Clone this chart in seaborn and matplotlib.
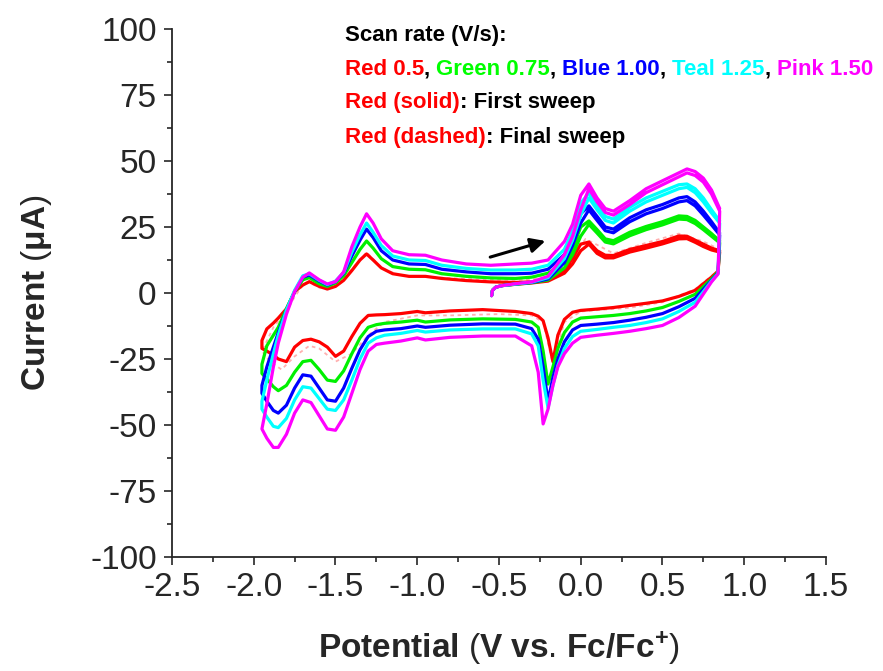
import numpy as np
import pandas as pd
import matplotlib
matplotlib.use("Agg")
import matplotlib.pyplot as plt
import seaborn as sns
from matplotlib.ticker import AutoMinorLocator, FormatStrFormatter

# Potential grids (V vs Fc/Fc+)
first_v = [-0.545, -0.54, -0.52, -0.48, -0.40, -0.30, -0.20, -0.10, -0.05, 0.00, 0.05,
           0.10, 0.15, 0.20, 0.30, 0.40, 0.50, 0.60, 0.65, 0.70, 0.75, 0.80, 0.85]
lower_v = [0.84, 0.80, 0.70, 0.60, 0.50, 0.40, 0.30, 0.20, 0.10, 0.00,
           -0.05, -0.10, -0.14, -0.17, -0.20, -0.23, -0.26, -0.30,
           -0.40, -0.60, -0.80, -0.95, -1.00, -1.10,
           -1.20, -1.25, -1.30, -1.35, -1.40, -1.45, -1.50,
           -1.55, -1.60, -1.65, -1.70, -1.75, -1.80, -1.85, -1.88, -1.92, -1.95]
upper_v = [-1.95, -1.92, -1.88, -1.85, -1.80, -1.75, -1.70, -1.66, -1.60, -1.55,
           -1.50, -1.45, -1.40, -1.35, -1.31, -1.27, -1.22, -1.15, -1.05, -0.95,
           -0.85, -0.70, -0.55, -0.40, -0.30, -0.20, -0.10, -0.05, 0.00, 0.05,
           0.10, 0.15, 0.20, 0.30, 0.40, 0.50, 0.60, 0.65, 0.70, 0.75, 0.80, 0.85]

# Current (uA), first anodic sweep from the start potential
red_first = [-1, 1, 2.2, 2.8, 3.3, 3.8, 4.5, 7.5, 11, 16, 18.5, 15, 13.3, 13.3, 15.5, 17, 18.6, 20.5, 20.6, 19.2, 17.6, 16.3, 15.5]
green_first = [-1, 1, 2.2, 2.8, 3.3, 3.9, 4.9, 9.5, 14.5, 21.5, 26, 22.7, 19.3, 18.6, 21.7, 24, 25.8, 28, 27.8, 26.3, 24, 21.5, 19]
blue_first = [-1, 1, 2.2, 2.8, 3.4, 4, 5.3, 11.5, 18, 26.5, 31.5, 27.5, 23.6, 22.8, 27, 30, 32, 34.5, 35, 33, 29.5, 25.8, 22]
teal_first = [-1, 1, 2.2, 2.8, 3.4, 4.1, 5.8, 13, 20, 29.5, 36, 31.5, 27.5, 26.5, 31, 34.5, 37, 39.5, 40, 38, 34.5, 30.3, 26.5]
pink_first = [-1, 1, 2.2, 2.8, 3.5, 4.2, 6.3, 14.5, 21.5, 31.5, 39.5, 34.5, 30.5, 29.5, 33.5, 38, 41, 44, 45.5, 44.5, 42, 37.5, 31]

# cathodic sweep 0.85 -> -1.95 V
red_lower = [8.3, 6, 1, -1.3, -3, -3.9, -4.7, -5.5, -6.1, -6.6, -7.3, -10, -16, -26, -17, -10.5, -8.8, -7.8,
             -7, -6.3, -6.8, -7.5, -7, -7.8, -8.2, -8.3, -8.5, -11.5, -16.5, -22, -24,
             -20.5, -18.5, -17.5, -18, -20.5, -26, -25, -23.5, -22, -21]
green_lower = [8, 5.3, -0.5, -3.2, -5.5, -6.8, -7.8, -8.5, -9, -9.5, -11, -15, -21, -28, -34.5, -22, -13, -11,
               -10, -9.8, -10.2, -11, -10.3, -11, -11.5, -12, -13, -17, -23, -29.5, -33.5,
               -33, -29, -25.5, -26, -30, -35, -37, -35.5, -32.5, -30.5]
blue_lower = [7.6, 4.8, -2, -5.2, -7.8, -9.2, -10.3, -11.2, -11.8, -12.3, -14, -18.5, -25, -32, -41, -28, -17.5, -13.5,
              -11.8, -11.7, -12.2, -13, -12.5, -13.5, -14, -14.5, -16.5, -21.5, -28.5, -36, -41,
              -40.5, -36, -31.5, -31, -36, -42.5, -45.5, -44.5, -41, -38]
teal_lower = [7.3, 4.5, -3.5, -7, -9.8, -11.2, -12.3, -13, -13.8, -14.5, -16.5, -21, -27.5, -35, -43.5, -33, -20, -15.5,
              -13.6, -13.6, -14, -14.8, -14.2, -15.3, -16, -17, -19, -25, -33, -40.5, -44.5,
              -44, -40, -36, -35.5, -40.5, -47.5, -51, -50.5, -47, -44]
pink_lower = [7.2, 4.2, -5, -9.3, -12.3, -13.5, -14.5, -15.3, -16, -16.8, -19, -23, -28, -35, -44, -49.6, -30, -20,
              -16.3, -16.3, -16.8, -17.8, -17, -18.2, -19, -19.5, -22, -29, -38, -47, -52,
              -51.5, -46.5, -41.5, -40.5, -45.5, -53.5, -58.5, -58.5, -55, -51.5]

# anodic sweep -1.95 -> 0.85 V
red_upper = [-18, -13.6, -11.4, -9.5, -6, 0.5, 3, 4.3, 2.5, 1.5, 2.5, 4.8, 8.5, 12.5, 14.8, 12.5, 9.5, 7.3, 6.3, 6.3,
             5.5, 4.7, 4.2, 4, 4.2, 5.5, 8.5, 13.3, 18.5, 19.3, 16, 14.3, 14.2, 16.5, 18, 19.5, 21.6, 21.5, 20, 18.5, 17, 16]
green_upper = [-27, -20, -16, -13, -6, 0.5, 5, 5.8, 3.5, 2.5, 3.8, 6.5, 11.5, 16.5, 19.7, 17, 13, 10, 9, 8.8,
               7.3, 6.3, 5.7, 5.5, 6, 7.5, 11.5, 17, 25, 27.3, 24, 20.5, 19.8, 23, 25.2, 27, 29.2, 29, 27.5, 25, 22.5, 19.7]
blue_upper = [-35, -28, -20.5, -15, -6.5, 0.5, 6, 6.8, 4.5, 3, 4.3, 7.5, 14, 20, 24.2, 21, 16, 12.5, 11, 10.8,
              9, 8, 7.3, 7.3, 7.5, 9, 14.5, 20.5, 30, 33, 29, 25, 24.2, 28.5, 31.5, 33.5, 36, 36.5, 34.5, 31, 27, 22.7]
teal_upper = [-41, -33, -23, -16, -6.5, 1, 6.5, 7.3, 4.8, 3.2, 4.5, 7.8, 15.5, 22, 26.5, 23, 18, 14, 12.5, 12.3,
              10.5, 9.3, 8.7, 8.7, 9, 10.5, 16.5, 23.5, 34, 37.9, 33, 29, 28, 32.5, 36, 38.5, 41, 41.3, 39.5, 36, 31.5, 27.3]
pink_upper = [-51.5, -42, -28, -19, -8, 0.5, 6, 7.6, 5, 3.4, 4.3, 8, 17.5, 25, 30, 26.5, 20.5, 16, 14.5, 14.3,
              12.5, 11, 10.5, 11, 11.3, 12.5, 19.5, 26, 37, 41.3, 36, 32, 31, 35, 39.5, 42.5, 45.5, 47, 46, 43.5, 39, 32]

# red final sweep (dashed)
final_v = [0.85, 0.70, 0.50, 0.30, 0.10, 0.00, -0.10, -0.17, -0.23, -0.30, -0.50, -0.80, -1.00, -1.20, -1.30,
           -1.40, -1.50, -1.60, -1.66, -1.75, -1.83, -1.90, -1.95,
           -1.88, -1.80, -1.75, -1.70, -1.66, -1.60, -1.50, -1.40, -1.31, -1.22, -1.10, -0.90, -0.60,
           -0.30, -0.10, 0.03, 0.20, 0.40, 0.60, 0.75, 0.85]
red_final = [9, 1.5, -3.5, -5.6, -6.5, -7, -11, -27, -11, -8.5, -8, -8.5, -8.5, -11, -16,
             -23, -26, -21, -20, -24, -29, -26, -22,
             -13, -7, -1.5, 3, 4, 2, 2.5, 9, 15.5, 9.5, 6.5, 6, 5,
             5, 10, 20.5, 15, 19, 22.5, 19.5, 16.5]

scan_colors = ["#ff0000", "#00f000", "#0000ff", "#00ffff", "#ff00ff"]
curves = [(red_first, red_lower, red_upper), (green_first, green_lower, green_upper),
          (blue_first, blue_lower, blue_upper), (teal_first, teal_lower, teal_upper),
          (pink_first, pink_lower, pink_upper)]

sns.set_style("ticks")
plt.rcParams["font.family"] = ["Liberation Sans", "DejaVu Sans"]
plt.rcParams["axes.unicode_minus"] = False
plt.rcParams["mathtext.fontset"] = "custom"
plt.rcParams["mathtext.rm"] = "Liberation Sans"
plt.rcParams["mathtext.bf"] = "Liberation Sans:bold"

fig, ax = plt.subplots(figsize=(8.83, 6.71), dpi=100)
fig.subplots_adjust(left=0.1948, right=0.9354, bottom=0.1699, top=0.9568)

# faint dashed final sweep for red
sns.lineplot(x=final_v, y=red_final, sort=False, estimator=None, ax=ax,
             color="#ffb0b0", lw=1.3, linestyle=(0, (2, 2)), zorder=1)

for col, (f, lo, up) in zip(scan_colors, curves):
    df = pd.DataFrame({"E": first_v + lower_v + upper_v, "I": f + lo + up})
    sns.lineplot(data=df, x="E", y="I", sort=False, estimator=None, ax=ax,
                 color=col, lw=2.3, zorder=2)

ax.annotate("", xy=(-0.20, 20), xytext=(-0.57, 13.3),
            arrowprops=dict(arrowstyle="-|>", color="black", lw=2.2, mutation_scale=22))

ax.set_xlim(-2.5, 1.5)
ax.set_ylim(-100, 100)
ax.set_xticks(np.arange(-2.5, 1.51, 0.5))
ax.set_yticks(np.arange(-100, 101, 25))
ax.xaxis.set_major_formatter(FormatStrFormatter("%.1f"))
ax.xaxis.set_minor_locator(AutoMinorLocator(2))
ax.yaxis.set_minor_locator(AutoMinorLocator(2))
ax.tick_params(which="major", direction="out", length=6, width=1.2, labelsize=24, pad=5)
ax.tick_params(which="minor", direction="out", length=3.5, width=1.2)
sns.despine(ax=ax)
for s in ["left", "bottom"]:
    ax.spines[s].set_linewidth(1.3)

ax.set_xlabel(r"$\mathbf{Potential}$ ($\mathbf{V}$ $\mathbf{vs}$. $\mathbf{Fc/Fc^{+}}$)",
              fontsize=24, labelpad=19)
ax.set_ylabel(r"$\mathbf{Current}$ ($\mathbf{μA}$)", fontsize=24, labelpad=26)

# colored note text
lines = [
    [("Scan rate (V/s):", "black")],
    [("Red 0.5", "#ff0000"), (", ", "black"), ("Green 0.75", "#00ff00"), (", ", "black"),
     ("Blue 1.00", "#0000ff"), (", ", "black"), ("Teal 1.25", "#00ffff"), (", ", "black"),
     ("Pink 1.50", "#ff00ff")],
    [("Red (solid)", "#ff0000"), (": First sweep", "black")],
    [("Red (dashed)", "#ff0000"), (": Final sweep", "black")],
]
line_y = [0.987, 0.924, 0.860, 0.794]
for segs, yy in zip(lines, line_y):
    prev = None
    for txt, c in segs:
        if prev is None:
            prev = ax.text(0.2645, yy, txt, transform=ax.transAxes, color=c,
                           fontsize=16, fontweight="bold", va="center", ha="left")
        else:
            prev = ax.annotate(txt, xy=(1, 0), xycoords=prev, va="bottom", ha="left",
                               color=c, fontsize=16, fontweight="bold")

fig.savefig("out.png", dpi=100)
